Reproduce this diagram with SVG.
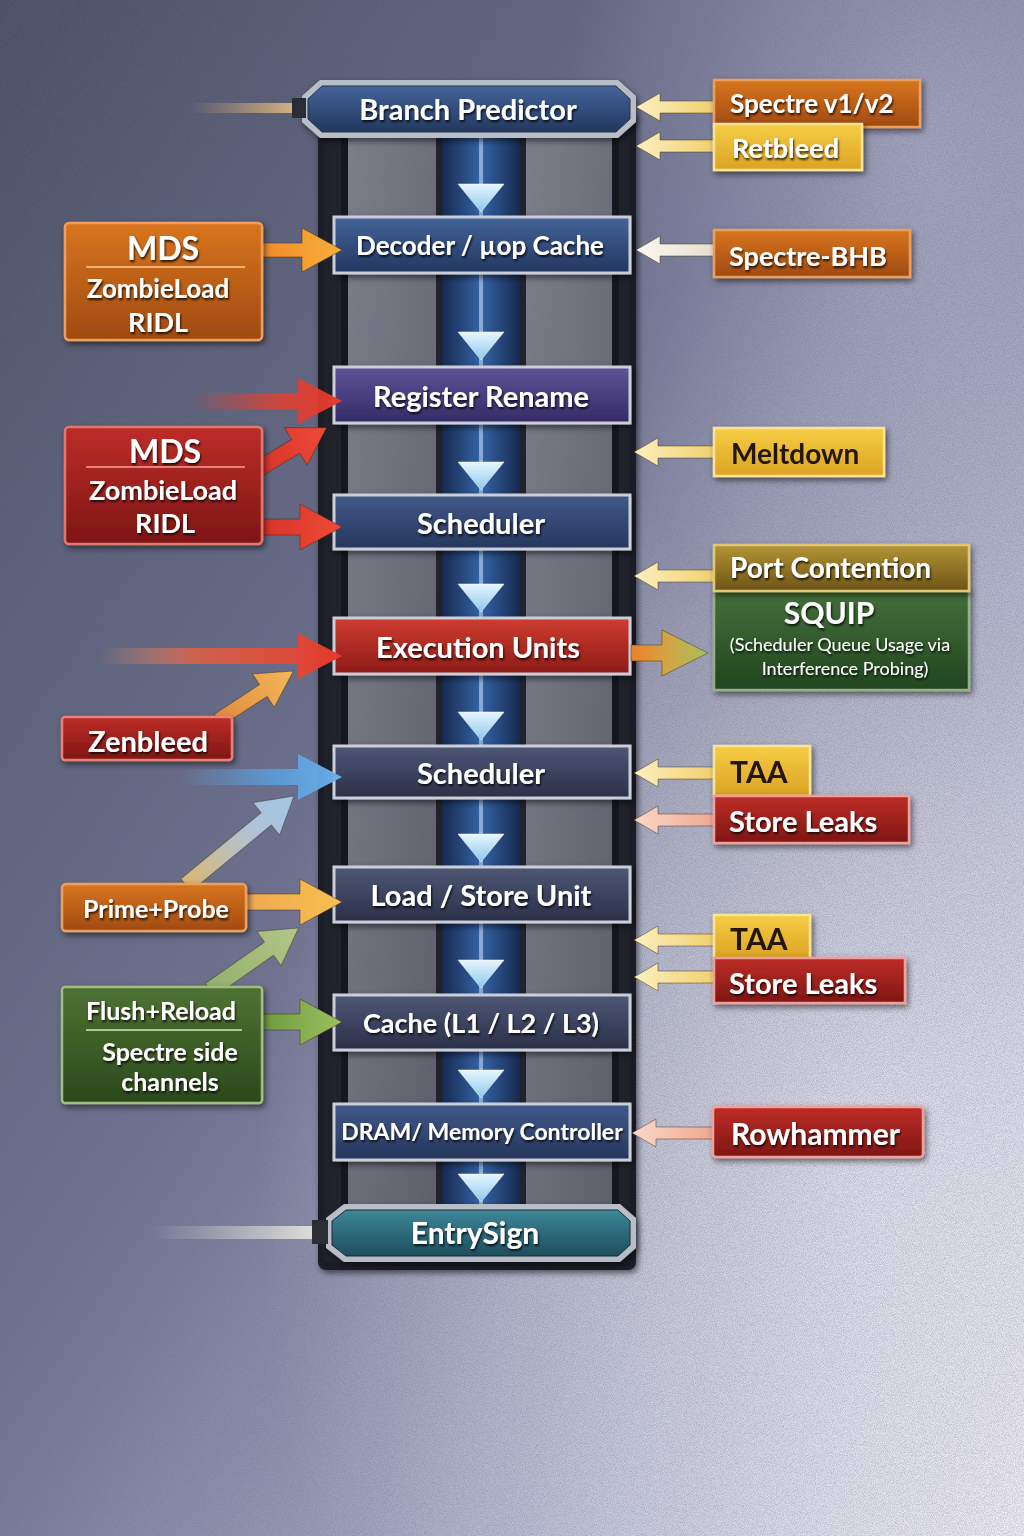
<svg xmlns="http://www.w3.org/2000/svg" width="1024" height="1536" viewBox="0 0 1024 1536">
<defs>
<linearGradient id="bg" x1="0" y1="0" x2="1" y2="1">
<stop offset="0" stop-color="#4a4f63"/>
<stop offset="0.45" stop-color="#6f7390"/>
<stop offset="0.8" stop-color="#b9bbd4"/>
<stop offset="1" stop-color="#eceaf4"/>
</linearGradient>
<radialGradient id="glow" cx="0.85" cy="0.75" r="0.6">
<stop offset="0" stop-color="#ffffff" stop-opacity="0.55"/>
<stop offset="1" stop-color="#ffffff" stop-opacity="0"/>
</radialGradient>
<radialGradient id="glow2" cx="0.9" cy="0.1" r="0.35">
<stop offset="0" stop-color="#d8d8ee" stop-opacity="0.45"/>
<stop offset="1" stop-color="#d8d8ee" stop-opacity="0"/>
</radialGradient>
<filter id="noise" x="0" y="0" width="100%" height="100%">
<feTurbulence type="fractalNoise" baseFrequency="1.1" numOctaves="2" seed="3"/>
<feColorMatrix type="matrix" values="0 0 0 0 0.15  0 0 0 0 0.15  0 0 0 0 0.25  0 0 0 1.4 -0.45"/>
</filter>
<filter id="sh" x="-10%" y="-20%" width="125%" height="150%">
<feDropShadow dx="2" dy="3" stdDeviation="3" flood-color="#000" flood-opacity="0.55"/>
</filter>
<filter id="tsh" x="-10%" y="-30%" width="120%" height="160%">
<feDropShadow dx="1" dy="2" stdDeviation="1" flood-color="#000" flood-opacity="0.8"/>
</filter>
<linearGradient id="gBlue" x1="0" y1="0" x2="0" y2="1"><stop offset="0" stop-color="#44649a"/><stop offset="1" stop-color="#22375e"/></linearGradient>
<linearGradient id="gPurple" x1="0" y1="0" x2="0" y2="1"><stop offset="0" stop-color="#5e5296"/><stop offset="1" stop-color="#352a66"/></linearGradient>
<linearGradient id="gSlate1" x1="0" y1="0" x2="0" y2="1"><stop offset="0" stop-color="#41598a"/><stop offset="1" stop-color="#26365c"/></linearGradient>
<linearGradient id="gSlate" x1="0" y1="0" x2="0" y2="1"><stop offset="0" stop-color="#4d5775"/><stop offset="1" stop-color="#2a3048"/></linearGradient>
<linearGradient id="gRedBox" x1="0" y1="0" x2="0" y2="1"><stop offset="0" stop-color="#d03c30"/><stop offset="1" stop-color="#8c1b17"/></linearGradient>
<linearGradient id="gTeal" x1="0" y1="0" x2="0" y2="1"><stop offset="0" stop-color="#3d8799"/><stop offset="1" stop-color="#1e4d5e"/></linearGradient>
<linearGradient id="gOrange" x1="0" y1="0" x2="0" y2="1"><stop offset="0" stop-color="#d8751f"/><stop offset="1" stop-color="#a04a10"/></linearGradient>
<linearGradient id="gRed" x1="0" y1="0" x2="0" y2="1"><stop offset="0" stop-color="#bd2d27"/><stop offset="1" stop-color="#7e1614"/></linearGradient>
<linearGradient id="gGreen" x1="0" y1="0" x2="0" y2="1"><stop offset="0" stop-color="#4f7233"/><stop offset="1" stop-color="#2b481c"/></linearGradient>
<linearGradient id="gYellow" x1="0" y1="0" x2="0" y2="1"><stop offset="0" stop-color="#f6cd45"/><stop offset="1" stop-color="#dba323"/></linearGradient>
<linearGradient id="gGold" x1="0" y1="0" x2="0" y2="1"><stop offset="0" stop-color="#b39434"/><stop offset="1" stop-color="#6e5418"/></linearGradient>
<linearGradient id="gSquip" x1="0" y1="0" x2="0" y2="1"><stop offset="0" stop-color="#44703a"/><stop offset="1" stop-color="#21451f"/></linearGradient>
<linearGradient id="gChan" x1="0" y1="0" x2="1" y2="0"><stop offset="0" stop-color="#162a50"/><stop offset="0.5" stop-color="#3563a6"/><stop offset="1" stop-color="#162a50"/></linearGradient>
<linearGradient id="gPanel" x1="0" y1="0" x2="1" y2="1"><stop offset="0" stop-color="#7e808a"/><stop offset="1" stop-color="#5c5e68"/></linearGradient>
<linearGradient id="gFrame" x1="0" y1="0" x2="1" y2="0"><stop offset="0" stop-color="#1f2129"/><stop offset="0.5" stop-color="#3c3f4a"/><stop offset="1" stop-color="#1f2129"/></linearGradient>
<linearGradient id="fadeRed" x1="0" y1="0" x2="1" y2="0"><stop offset="0" stop-color="#e04030" stop-opacity="0"/><stop offset="0.6" stop-color="#e04030" stop-opacity="0.85"/><stop offset="1" stop-color="#e43a2c"/></linearGradient>
<linearGradient id="fadeRed2" x1="0" y1="0" x2="1" y2="0"><stop offset="0" stop-color="#f0a070" stop-opacity="0"/><stop offset="0.4" stop-color="#e86040" stop-opacity="0.8"/><stop offset="1" stop-color="#e43a2c"/></linearGradient>
<linearGradient id="fadeBlue" x1="0" y1="0" x2="1" y2="0"><stop offset="0" stop-color="#5aa0e0" stop-opacity="0"/><stop offset="0.6" stop-color="#5aa0e0" stop-opacity="0.85"/><stop offset="1" stop-color="#6bb0ec"/></linearGradient>
<linearGradient id="fadeTan" x1="0" y1="0" x2="1" y2="0"><stop offset="0" stop-color="#c8a070" stop-opacity="0"/><stop offset="1" stop-color="#d4b080"/></linearGradient>
<linearGradient id="fadeGray" x1="0" y1="0" x2="1" y2="0"><stop offset="0" stop-color="#c8c8c8" stop-opacity="0"/><stop offset="1" stop-color="#dcdcd8"/></linearGradient>
<linearGradient id="aOrange" x1="0" y1="0" x2="1" y2="0"><stop offset="0" stop-color="#f08a2a"/><stop offset="1" stop-color="#f7b03a"/></linearGradient>
<linearGradient id="aRed" x1="0" y1="0" x2="1" y2="0"><stop offset="0" stop-color="#d83428"/><stop offset="1" stop-color="#ee4a38"/></linearGradient>
<linearGradient id="aZen" x1="0" y1="0" x2="1" y2="0"><stop offset="0" stop-color="#e08a40"/><stop offset="1" stop-color="#f4b858"/></linearGradient>
<linearGradient id="aPP" x1="0" y1="0" x2="1" y2="0"><stop offset="0" stop-color="#e8c070"/><stop offset="0.6" stop-color="#b8cce0"/><stop offset="1" stop-color="#a8d0ee"/></linearGradient>
<linearGradient id="aPP2" x1="0" y1="0" x2="1" y2="0"><stop offset="0" stop-color="#f0a850"/><stop offset="1" stop-color="#f8c050"/></linearGradient>
<linearGradient id="aFR" x1="0" y1="0" x2="1" y2="0"><stop offset="0" stop-color="#98b868"/><stop offset="1" stop-color="#b8d088"/></linearGradient>
<linearGradient id="aFR2" x1="0" y1="0" x2="1" y2="0"><stop offset="0" stop-color="#6e9a40"/><stop offset="1" stop-color="#9cc060"/></linearGradient>
<linearGradient id="aSquip" x1="0" y1="0" x2="1" y2="0"><stop offset="0" stop-color="#e8802a"/><stop offset="0.4" stop-color="#d8a040"/><stop offset="1" stop-color="#a8c060"/></linearGradient>
<linearGradient id="aY" x1="0" y1="0" x2="1" y2="0"><stop offset="0" stop-color="#fbf0c0"/><stop offset="1" stop-color="#f2d070"/></linearGradient>
<linearGradient id="aW" x1="0" y1="0" x2="1" y2="0"><stop offset="0" stop-color="#fbf8f0"/><stop offset="1" stop-color="#e8e0d0"/></linearGradient>
<linearGradient id="aP" x1="0" y1="0" x2="1" y2="0"><stop offset="0" stop-color="#fbd8c8"/><stop offset="1" stop-color="#f0a890"/></linearGradient>
<linearGradient id="tri" x1="0" y1="0" x2="0" y2="1"><stop offset="0" stop-color="#e8f6ff"/><stop offset="1" stop-color="#8cc8ec"/></linearGradient>
<path id="downTri" d="M-23,0 L23,0 L0,28 Z"/>
</defs>
<style>
.t{font-family:Lato,"Open Sans","Liberation Sans",sans-serif;font-weight:700;fill:#ffffff;text-anchor:middle;dominant-baseline:central;filter:url(#tsh)}
.tl{text-anchor:start}
.dk{fill:#24190a;filter:none}
.rg{font-weight:400}
.stage{stroke:#c9ced8;stroke-width:3}
.lbl{filter:url(#sh)}
.arr{stroke:#3a2a10;stroke-opacity:0.45;stroke-width:1}
</style>

<!-- background -->
<rect width="1024" height="1536" fill="url(#bg)"/>
<rect width="1024" height="1536" fill="url(#glow)"/>
<rect width="1024" height="1536" fill="url(#glow2)"/>
<rect width="1024" height="1536" filter="url(#noise)" opacity="0.5"/>

<!-- pipeline column -->
<g id="column">
<rect x="318" y="110" width="318" height="1160" rx="8" fill="#1c1e26" filter="url(#sh)"/>
<rect x="324" y="112" width="306" height="1150" fill="url(#gFrame)"/>
<rect x="348" y="137" width="88" height="1070" fill="url(#gPanel)"/>
<rect x="526" y="137" width="86" height="1070" fill="url(#gPanel)"/>
<rect x="348" y="137" width="88" height="1070" filter="url(#noise)" opacity="0.5"/>
<rect x="526" y="137" width="86" height="1070" filter="url(#noise)" opacity="0.5"/>
<rect x="436" y="137" width="90" height="1070" fill="#20232c"/>
<rect x="442" y="137" width="78" height="1070" fill="url(#gChan)"/>
<rect x="479" y="137" width="4" height="1070" fill="#cfe8ff" opacity="0.55"/>
<rect x="341" y="137" width="7" height="1070" fill="#15171e"/>
<rect x="612" y="137" width="7" height="1070" fill="#15171e"/>
<g fill="url(#tri)" stroke="#ffffff" stroke-opacity="0.5">
<use href="#downTri" x="481" y="184"/>
<use href="#downTri" x="481" y="332"/>
<use href="#downTri" x="481" y="462"/>
<use href="#downTri" x="481" y="584"/>
<use href="#downTri" x="481" y="712"/>
<use href="#downTri" x="481" y="834"/>
<use href="#downTri" x="481" y="960"/>
<use href="#downTri" x="481" y="1070"/>
<use href="#downTri" x="481" y="1174"/>
</g>
</g>

<!-- stages -->
<g id="n-branch-predictor">
<path d="M320,80 L618,80 L636,96 L636,122 L618,138 L320,138 L302,122 L302,96 Z" fill="#b8bec8" filter="url(#sh)"/>
<path d="M322,86 L616,86 L630,99 L630,119 L616,132 L322,132 L308,119 L308,99 Z" fill="url(#gBlue)" stroke="#2a3040" stroke-width="1"/>
<text class="t" x="468" y="108" font-size="29">Branch Predictor</text>
</g>
<g id="n-decoder">
<rect class="stage" x="334" y="217" width="296" height="56" fill="url(#gBlue)" filter="url(#sh)"/>
<text class="t" x="480" y="245" font-size="26">Decoder / µop Cache</text>
</g>
<g id="n-register-rename">
<rect class="stage" x="334" y="367" width="296" height="56" fill="url(#gPurple)" filter="url(#sh)"/>
<text class="t" x="481" y="395" font-size="29">Register Rename</text>
</g>
<g id="n-scheduler-1">
<rect class="stage" x="334" y="495" width="296" height="54" fill="url(#gSlate1)" filter="url(#sh)"/>
<text class="t" x="481" y="522" font-size="29">Scheduler</text>
</g>
<g id="n-execution-units">
<rect class="stage" x="334" y="618" width="296" height="56" fill="url(#gRedBox)" stroke="#e89088" filter="url(#sh)"/>
<text class="t" x="478" y="646" font-size="29">Execution Units</text>
</g>
<g id="n-scheduler-2">
<rect class="stage" x="334" y="746" width="296" height="52" fill="url(#gSlate)" filter="url(#sh)"/>
<text class="t" x="481" y="772" font-size="29">Scheduler</text>
</g>
<g id="n-load-store">
<rect class="stage" x="334" y="867" width="296" height="55" fill="url(#gSlate)" filter="url(#sh)"/>
<text class="t" x="481" y="894" font-size="29">Load / Store Unit</text>
</g>
<g id="n-cache">
<rect class="stage" x="334" y="995" width="296" height="55" fill="url(#gSlate)" filter="url(#sh)"/>
<text class="t" x="481" y="1022" font-size="27">Cache (L1 / L2 / L3)</text>
</g>
<g id="n-dram">
<rect class="stage" x="334" y="1104" width="296" height="56" fill="url(#gSlate1)" filter="url(#sh)"/>
<text class="t" x="482" y="1131" font-size="23">DRAM/ Memory Controller</text>
</g>
<g id="n-entrysign">
<path d="M344,1204 L620,1204 L636,1218 L636,1248 L620,1262 L344,1262 L326,1248 L326,1218 Z" fill="#b8bec8" filter="url(#sh)"/>
<path d="M346,1210 L618,1210 L630,1221 L630,1245 L618,1256 L346,1256 L332,1245 L332,1221 Z" fill="url(#gTeal)" stroke="#1c2a30"/>
<text class="t" x="475" y="1232" font-size="30">EntrySign</text>
</g>

<!-- connectors -->
<g id="connectors">
<rect x="190" y="103" width="102" height="10" fill="url(#fadeTan)"/>
<rect x="292" y="98" width="14" height="20" fill="#2a2d36"/>
<rect x="150" y="1226" width="162" height="13" fill="url(#fadeGray)"/>
<rect x="312" y="1220" width="16" height="24" fill="#2a2d36"/>
<path class="arr" d="M262,243 L302,243 L302,228 L342,250 L302,272 L302,257 L262,257 Z" fill="url(#aOrange)"/>
<path d="M190,393 L298,393 L298,378 L342,401 L298,424 L298,409 L190,409 Z" fill="url(#fadeRed)"/>
<path class="arr" d="M0,-8 L44,-8 L44,-22 L80,0 L44,22 L44,8 L0,8 Z" fill="url(#aRed)" transform="translate(258,469) rotate(-31)"/>
<path class="arr" d="M262,519 L300,519 L300,504 L342,527 L300,550 L300,535 L262,535 Z" fill="url(#aRed)"/>
<path d="M100,648 L298,648 L298,633 L342,656 L298,679 L298,664 L100,664 Z" fill="url(#fadeRed2)"/>
<path class="arr" d="M0,-7 L54,-7 L54,-20 L90,0 L54,20 L54,7 L0,7 Z" fill="url(#aZen)" transform="translate(218,720) rotate(-33)"/>
<path d="M180,769 L298,769 L298,754 L342,777 L298,800 L298,785 L180,785 Z" fill="url(#fadeBlue)"/>
<path class="arr" d="M0,-8 L104,-8 L104,-21 L140,0 L104,21 L104,8 L0,8 Z" fill="url(#aPP)" transform="translate(186,885) rotate(-39.5)" opacity="0.9"/>
<path class="arr" d="M246,894 L300,894 L300,879 L342,902 L300,925 L300,910 L246,910 Z" fill="url(#aPP2)"/>
<path class="arr" d="M0,-8 L72,-8 L72,-21 L108,0 L72,21 L72,8 L0,8 Z" fill="url(#aFR)" transform="translate(210,990) rotate(-35)" opacity="0.9"/>
<path class="arr" d="M262,1014 L300,1014 L300,999 L342,1022 L300,1045 L300,1030 L262,1030 Z" fill="url(#aFR2)"/>
<path class="arr" d="M636,107 L660,93 L660,101 L714,101 L714,113 L660,113 L660,121 Z" fill="url(#aY)"/>
<path class="arr" d="M636,146 L660,132 L660,140 L714,140 L714,152 L660,152 L660,160 Z" fill="url(#aY)"/>
<path class="arr" d="M636,250 L660,236 L660,244 L714,244 L714,256 L660,256 L660,264 Z" fill="url(#aW)"/>
<path class="arr" d="M634,452 L658,438 L658,446 L714,446 L714,458 L658,458 L658,466 Z" fill="url(#aY)"/>
<path class="arr" d="M634,576 L658,562 L658,570 L714,570 L714,582 L658,582 L658,590 Z" fill="url(#aY)"/>
<path class="arr" d="M631,645 L662,645 L662,630 L708,653 L662,676 L662,661 L631,661 Z" fill="url(#aSquip)"/>
<path class="arr" d="M634,773 L658,759 L658,767 L714,767 L714,779 L658,779 L658,787 Z" fill="url(#aY)"/>
<path class="arr" d="M634,820 L658,806 L658,814 L714,814 L714,826 L658,826 L658,834 Z" fill="url(#aP)"/>
<path class="arr" d="M634,940 L658,926 L658,934 L714,934 L714,946 L658,946 L658,954 Z" fill="url(#aY)"/>
<path class="arr" d="M634,977 L658,963 L658,971 L714,971 L714,983 L658,983 L658,991 Z" fill="url(#aY)"/>
<path class="arr" d="M632,1133 L656,1119 L656,1127 L714,1127 L714,1139 L656,1139 L656,1147 Z" fill="url(#aP)"/>
</g>

<!-- left labels -->
<g id="n-mds-1" class="lbl">
<rect x="65" y="223" width="197" height="117" rx="4" fill="url(#gOrange)" stroke="#eaa060" stroke-width="2.5"/>
<text class="t" x="163" y="247" font-size="32">MDS</text>
<line x1="86" y1="267" x2="245" y2="267" stroke="#f0b070" stroke-width="2"/>
<text class="t" x="158" y="288" font-size="26">ZombieLoad</text>
<text class="t" x="158" y="321" font-size="27">RIDL</text>
</g>
<g id="n-mds-2" class="lbl">
<rect x="65" y="427" width="197" height="117" rx="4" fill="url(#gRed)" stroke="#e07870" stroke-width="2.5"/>
<text class="t" x="165" y="450" font-size="32">MDS</text>
<line x1="86" y1="467" x2="245" y2="467" stroke="#e88078" stroke-width="2"/>
<text class="t" x="163" y="489" font-size="27">ZombieLoad</text>
<text class="t" x="165" y="522" font-size="27">RIDL</text>
</g>
<g id="n-zenbleed" class="lbl">
<rect x="62" y="717" width="170" height="43" rx="3" fill="url(#gRed)" stroke="#e88078" stroke-width="2.5"/>
<text class="t" x="148" y="740" font-size="29">Zenbleed</text>
</g>
<g id="n-prime-probe" class="lbl">
<rect x="62" y="884" width="184" height="47" rx="4" fill="url(#gOrange)" stroke="#eaa060" stroke-width="2.5"/>
<text class="t" x="156" y="908" font-size="25">Prime+Probe</text>
</g>
<g id="n-flush-reload" class="lbl">
<rect x="62" y="987" width="200" height="116" rx="3" fill="url(#gGreen)" stroke="#a0bc80" stroke-width="2.5"/>
<text class="t" x="161" y="1010" font-size="25">Flush+Reload</text>
<line x1="86" y1="1030" x2="242" y2="1030" stroke="#b0c890" stroke-width="2"/>
<text class="t" x="170" y="1051" font-size="25">Spectre side</text>
<text class="t" x="170" y="1081" font-size="25">channels</text>
</g>

<!-- right labels -->
<g id="n-spectre-v1v2" class="lbl">
<rect x="714" y="80" width="206" height="47" fill="url(#gOrange)" stroke="#e8a060" stroke-width="2.5"/>
<text class="t tl" x="730" y="103" font-size="26">Spectre v1/v2</text>
</g>
<g id="n-retbleed" class="lbl">
<rect x="714" y="124" width="148" height="46" fill="url(#gYellow)" stroke="#f8e498" stroke-width="2.5"/>
<text class="t tl" x="732" y="147" font-size="27">Retbleed</text>
</g>
<g id="n-spectre-bhb" class="lbl">
<rect x="714" y="230" width="196" height="47" fill="url(#gOrange)" stroke="#e8a060" stroke-width="2.5"/>
<text class="t tl" x="729" y="255" font-size="27">Spectre-BHB</text>
</g>
<g id="n-meltdown" class="lbl">
<rect x="714" y="428" width="170" height="48" fill="url(#gYellow)" stroke="#f8e498" stroke-width="2.5"/>
<text class="t tl dk" x="731" y="453" font-size="28">Meltdown</text>
</g>
<g id="n-squip" class="lbl">
<rect x="714" y="590" width="255" height="100" fill="url(#gSquip)" stroke="#98b088" stroke-width="2.5"/>
<text class="t" x="829" y="612" font-size="30">SQUIP</text>
<text class="t rg" x="840" y="644" font-size="18">(Scheduler Queue Usage via</text>
<text class="t rg" x="845" y="668" font-size="18">Interference Probing)</text>
</g>
<g id="n-port-contention" class="lbl">
<rect x="714" y="545" width="255" height="46" fill="url(#gGold)" stroke="#e0c878" stroke-width="2.5"/>
<text class="t tl" x="730" y="567" font-size="28">Port Contention</text>
</g>
<g id="n-taa-1" class="lbl">
<rect x="714" y="746" width="96" height="50" fill="url(#gYellow)" stroke="#f8e498" stroke-width="2.5"/>
<text class="t tl dk" x="730" y="771" font-size="30">TAA</text>
</g>
<g id="n-store-leaks-1" class="lbl">
<rect x="714" y="796" width="195" height="47" fill="url(#gRed)" stroke="#f0a098" stroke-width="2.5"/>
<text class="t tl" x="729" y="820" font-size="29">Store Leaks</text>
</g>
<g id="n-taa-2" class="lbl">
<rect x="714" y="915" width="96" height="44" fill="url(#gYellow)" stroke="#f8e498" stroke-width="2.5"/>
<text class="t tl dk" x="730" y="938" font-size="30">TAA</text>
</g>
<g id="n-store-leaks-2" class="lbl">
<rect x="714" y="958" width="191" height="45" fill="url(#gRed)" stroke="#f0a098" stroke-width="2.5"/>
<text class="t tl" x="729" y="982" font-size="29">Store Leaks</text>
</g>
<g id="n-rowhammer" class="lbl">
<rect x="713" y="1107" width="210" height="50" rx="3" fill="url(#gRed)" stroke="#f0a098" stroke-width="2.5"/>
<text class="t tl" x="731" y="1133" font-size="30">Rowhammer</text>
</g>
</svg>
